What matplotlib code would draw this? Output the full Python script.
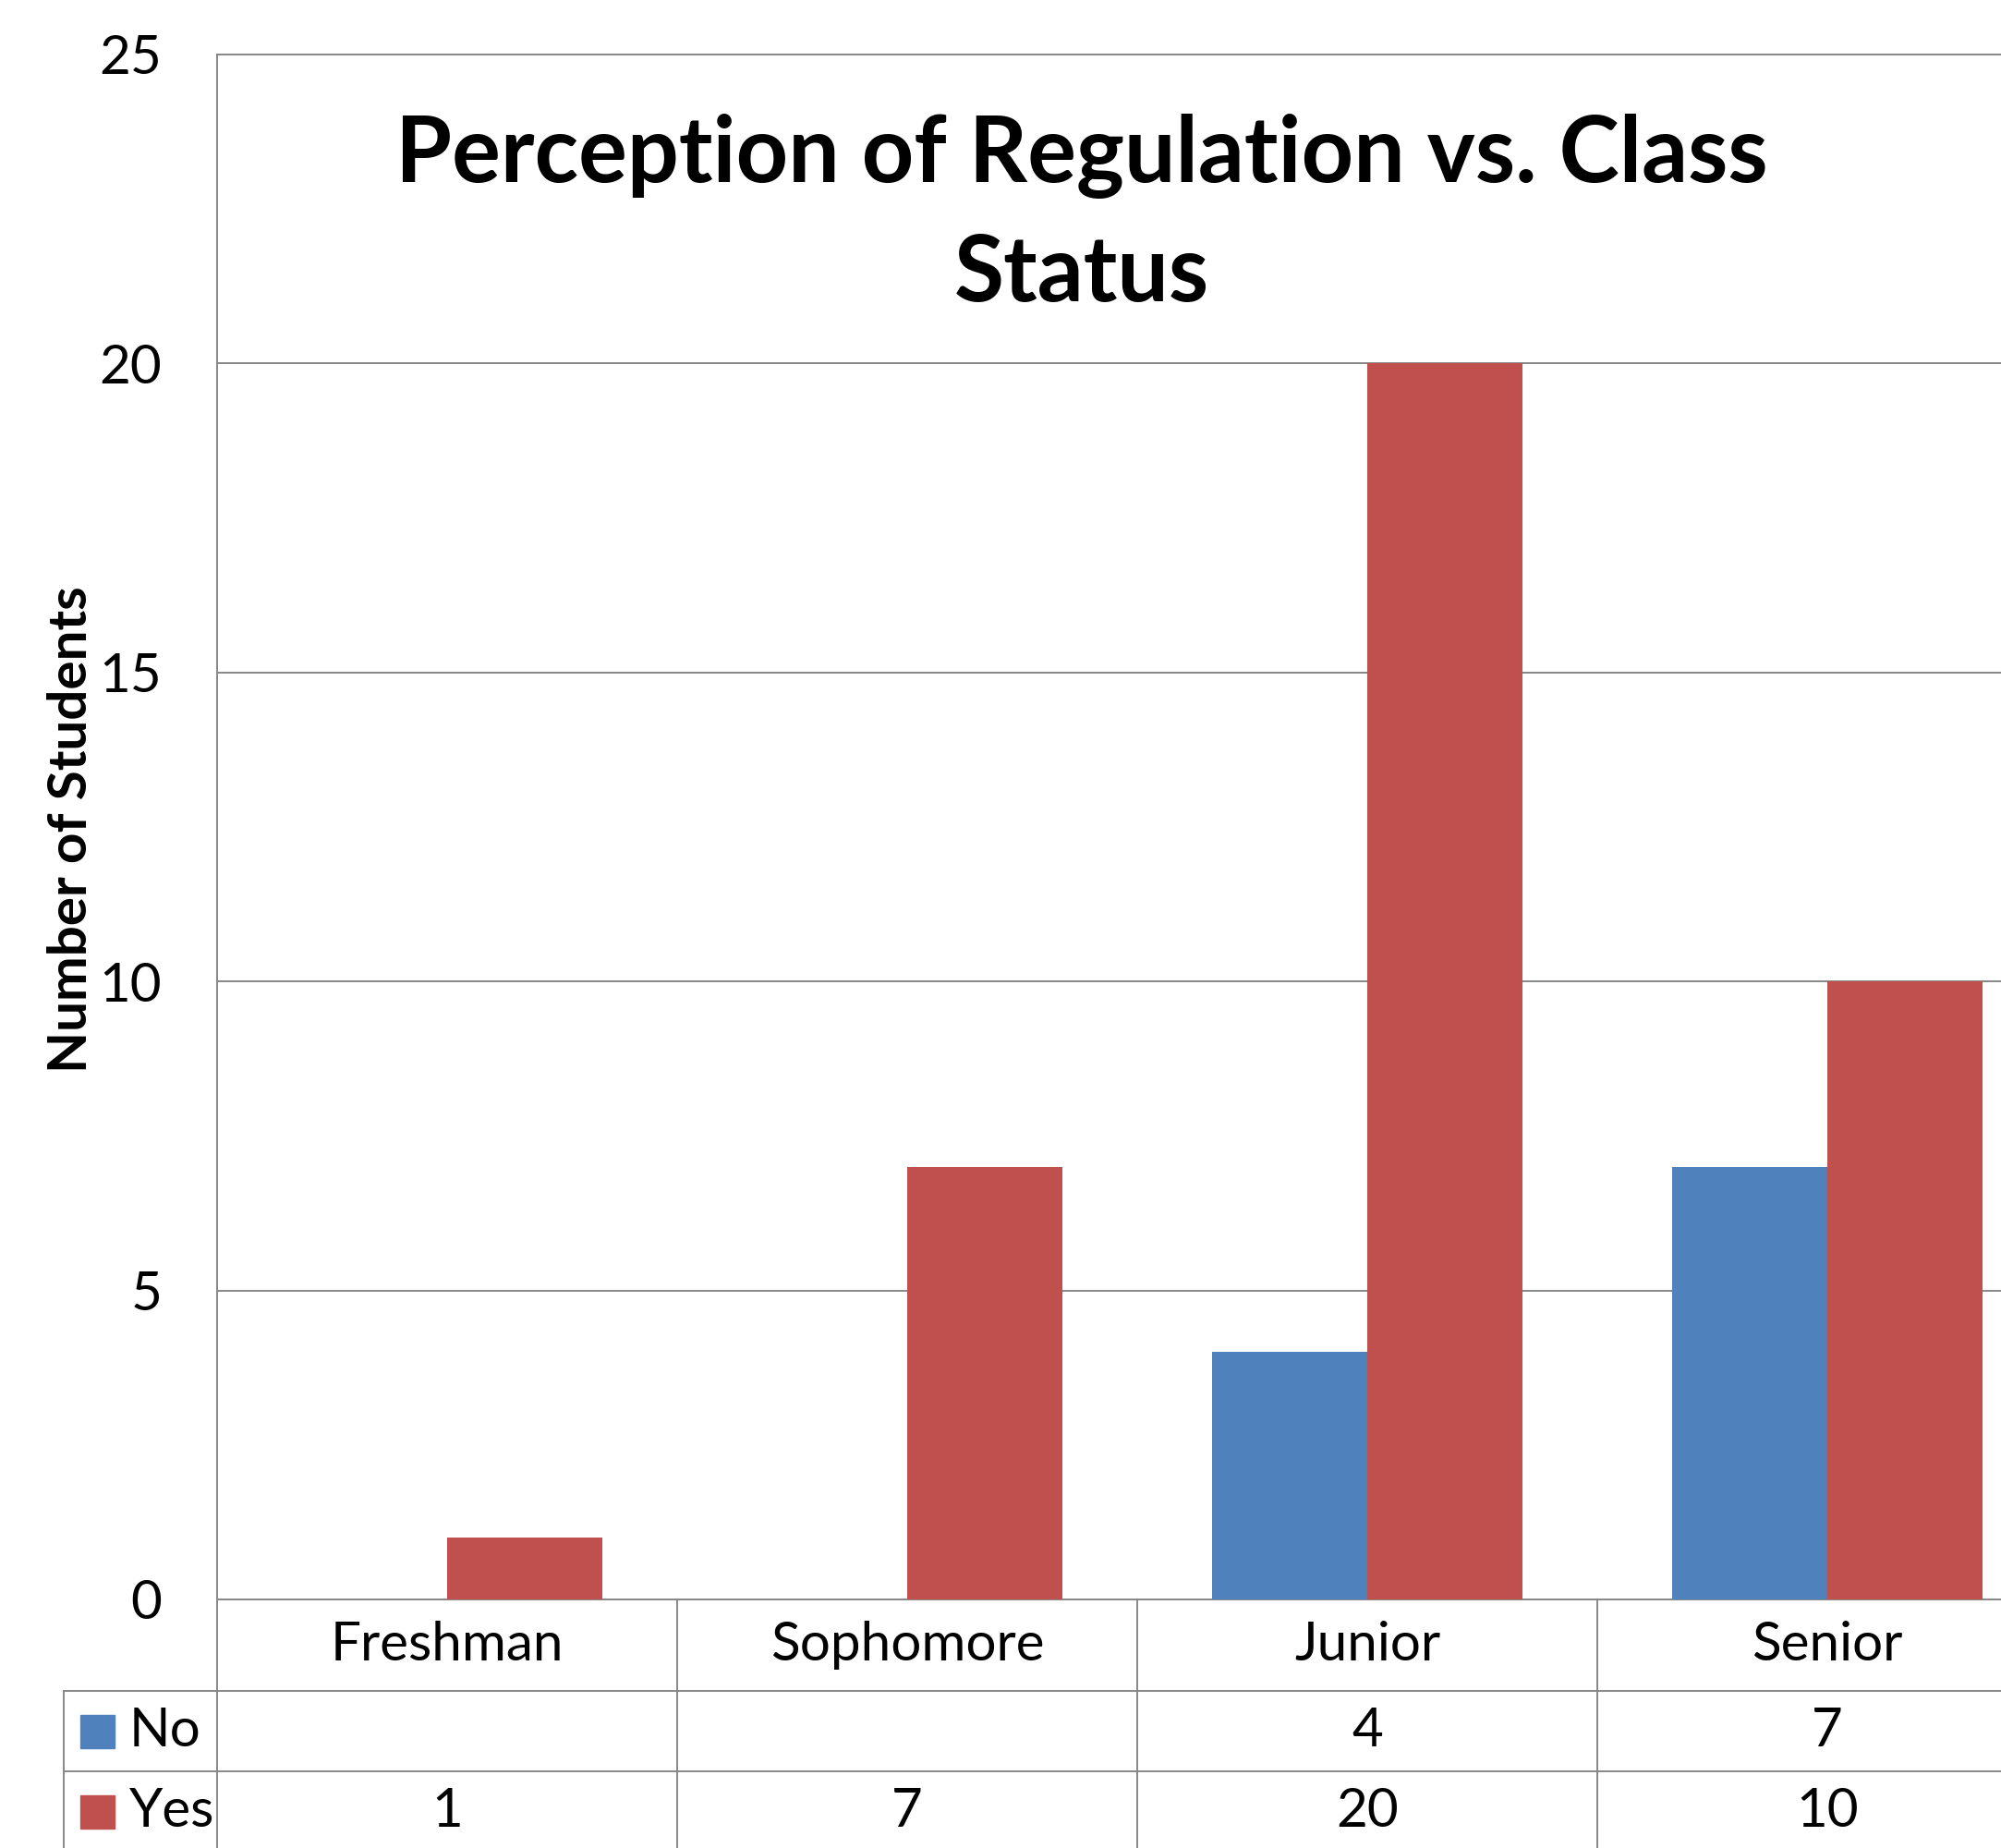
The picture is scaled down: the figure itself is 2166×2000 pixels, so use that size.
import numpy as np
import matplotlib.pyplot as plt
from matplotlib.lines import Line2D
from matplotlib.patches import Rectangle

# data
classes = ['Freshman', 'Sophomore', 'Junior', 'Senior']
no_vals = [None, None, 4, 7]
yes_vals = [1, 7, 20, 10]
series = ['No', 'Yes']
colors = ['#4F81BD', '#C0504D']
yticks = [0, 5, 10, 15, 20, 25]

W, H = 2166, 2000
grid_c = '#878787'
plt.rcParams['font.family'] = ['Lato', 'DejaVu Sans']

def fx(px):
    return px / W

def fy(py):
    return 1 - py / H

fig = plt.figure(figsize=(W / 100, H / 100), dpi=100)
# axes runs past the right edge, the reference is cropped there
ax_l, ax_r, ax_t, ax_b = 235, 2227, 59, 1731
ax = fig.add_axes([fx(ax_l), fy(ax_b), fx(ax_r - ax_l), (ax_b - ax_t) / H])

x = np.arange(len(classes))
bw = 0.338
no_arr = np.array([np.nan if v is None else v for v in no_vals], dtype=float)
ax.bar(x - bw / 2, no_arr, bw, color=colors[0], zorder=3)
ax.bar(x + bw / 2, yes_vals, bw, color=colors[1], zorder=3)

ax.set_xlim(-0.5, len(classes) - 0.5)
ax.set_ylim(0, 25)
ax.set_yticks(yticks)
ax.set_yticklabels([str(t) for t in yticks], fontsize=42)
ax.tick_params(axis='y', length=0, pad=43)
ax.set_xticks([])
ax.yaxis.grid(True, color=grid_c, linewidth=1.4, zorder=0)
for s in ['left', 'top', 'bottom', 'right']:
    ax.spines[s].set_color(grid_c)
    ax.spines[s].set_linewidth(1.4)

ax.set_ylabel('Number of Students', fontsize=42, fontweight='bold', va='center')
ax.yaxis.set_label_coords((78 - ax_l) / (ax_r - ax_l), (ax_b - 898) / (ax_b - ax_t))
ax.text(0.47, (ax_b - 233) / (ax_b - ax_t), 'Perception of Regulation vs. Class\nStatus',
        transform=ax.transAxes, ha='center', va='center', fontsize=71,
        fontweight='bold', linespacing=1.5)

# data table under the axis
row1, row2 = 1830, 1917
tab_l = 69
for yy in [row1, row2]:
    fig.add_artist(Line2D([fx(tab_l), 1], [fy(yy), fy(yy)], color=grid_c, lw=1.4))
fig.add_artist(Line2D([fx(tab_l), fx(tab_l)], [fy(row1), 0], color=grid_c, lw=1.4))
cat_w = (ax_r - ax_l) / len(classes)
for i in range(len(classes) + 1):
    xx = ax_l + i * cat_w
    fig.add_artist(Line2D([fx(xx), fx(xx)], [fy(ax_b), 0], color=grid_c, lw=1.4))

row_mid = [(ax_b + row1) / 2, (row1 + row2) / 2, (row2 + row2 + (row2 - row1)) / 2]
for i, c in enumerate(classes):
    cx = fx(ax_l + (i + 0.5) * cat_w)
    fig.text(cx, fy(row_mid[0]), c, ha='center', va='center', fontsize=42)
    for r, vals in enumerate([no_vals, yes_vals]):
        v = vals[i]
        if v is not None:
            fig.text(cx, fy(row_mid[r + 1]), str(v), ha='center', va='center', fontsize=42)

for r, name in enumerate(series):
    ym = row_mid[r + 1]
    fig.add_artist(Rectangle((fx(87), fy(ym + 18)), fx(37), 36 / H, color=colors[r],
                             transform=fig.transFigure))
    fig.text(fx(140), fy(ym), name, ha='left', va='center', fontsize=42)

plt.savefig('out.png', dpi=100)
